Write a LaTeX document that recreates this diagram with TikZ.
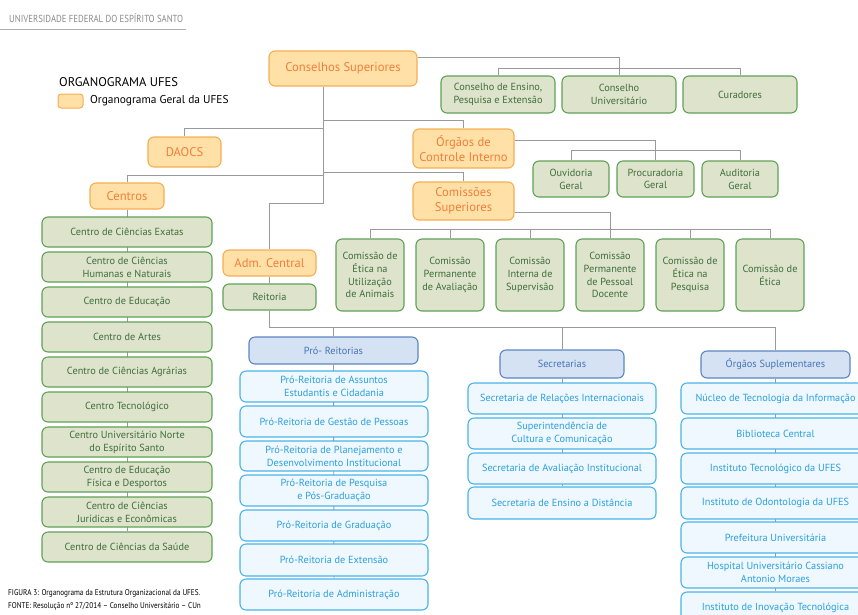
\documentclass[tikz,border=0pt]{standalone}
\usepackage{fontspec}
\setmainfont{PT Sans}
\usetikzlibrary{backgrounds}
\definecolor{oF}{HTML}{FFE1A8}
\definecolor{oB}{HTML}{F7AD52}
\definecolor{oT}{HTML}{F27E3A}
\definecolor{gF}{HTML}{DEE3CC}
\definecolor{gB}{HTML}{5FA255}
\definecolor{gT}{HTML}{3E6E3A}
\definecolor{hF}{HTML}{D4E2F4}
\definecolor{hB}{HTML}{5B86C1}
\definecolor{hT}{HTML}{4673B5}
\definecolor{lF}{HTML}{EEF8FE}
\definecolor{lB}{HTML}{48B3EA}
\definecolor{lT}{HTML}{2C9FDF}
\definecolor{lineC}{HTML}{9A9A9A}
\definecolor{hdr}{HTML}{8A8A8A}
\tikzset{
  base/.style={rounded corners=6pt, line width=1.1pt, inner sep=0pt, align=center,
    font=\fontsize{10.3}{12.8}\selectfont},
  obox/.style={base, draw=oB, fill=oF, text=oT, font=\fontsize{12.6}{15.5}\selectfont},
  gbox/.style={base, draw=gB, fill=gF, text=gT},
  hbox/.style={base, draw=hB, fill=hF, text=hT},
  lbox/.style={base, draw=lB, fill=lF, text=lT},
  conn/.style={draw=lineC, line width=0.9pt},
}
\newcommand{\bx}[7]{\node[#1, minimum width={(#5-#3)*1pt}, minimum height={(#6-#4)*1pt}] (#2) at ({(#3+#5)/2},{(#4+#6)/2}) {#7};}
\begin{document}
\begin{tikzpicture}[x=1pt,y=-1pt]
\useasboundingbox (0,0) rectangle (858,614);
% header
\node[anchor=west, inner sep=0, text=hdr, font=\fontsize{10.2}{11}\selectfont] (hdrtxt) at (9,18) {\scalebox{0.86}[1]{UNIVERSIDADE FEDERAL DO ESPÍRITO SANTO}};
\draw[draw=lineC!80, line width=1pt] (0,29) -- (186,29);
% legend
\node[anchor=west, inner sep=0, font=\fontsize{12.6}{14}\selectfont] (legt) at (59,82) {ORGANOGRAMA UFES};
\node[rounded corners=3pt, draw=oB, fill=oF, line width=1pt, minimum width=25pt, minimum height=14pt, inner sep=0] (sw) at (70.5,101) {};
\node[anchor=west, inner sep=0, font=\fontsize{11.4}{13}\selectfont] (legs) at (90,101) {Organograma Geral da UFES};
% top
\bx{obox}{cs}{269}{51}{417}{86}{Conselhos Superiores}
\bx{gbox}{cee}{441}{76}{555}{113}{Conselho de Ensino,\\Pesquisa e Extensão}
\bx{gbox}{cu}{562}{76}{676}{113}{Conselho\\Universitário}
\bx{gbox}{cur}{683}{76}{797}{113}{Curadores}
\bx{obox}{daocs}{148}{137}{221}{167}{DAOCS}
\bx{obox}{oci}{413}{129}{514}{168}{Órgãos de\\Controle Interno}
\bx{gbox}{ouv}{533}{161}{609}{197}{Ouvidoria\\Geral}
\bx{gbox}{pg}{617}{161}{694}{197}{Procuradoria\\Geral}
\bx{gbox}{aud}{702}{161}{778}{197}{Auditoria\\Geral}
\bx{obox}{centros}{90}{183}{164}{209}{Centros}
\bx{obox}{coms}{413}{182}{514}{220}{Comissões\\Superiores}
\bx{gbox}{c1}{336}{239}{404}{311}{Comissão de\\Ética na\\Utilização\\de Animais}
\bx{gbox}{c2}{416}{239}{484}{311}{Comissão\\Permanente\\de Avaliação}
\bx{gbox}{c3}{496}{239}{564}{311}{Comissão\\Interna de\\Supervisão}
\bx{gbox}{c4}{576}{239}{644}{311}{Comissão\\Permanente\\de Pessoal\\Docente}
\bx{gbox}{c5}{656}{239}{724}{311}{Comissão de\\Ética na\\Pesquisa}
\bx{gbox}{c6}{736}{239}{804}{311}{Comissão de\\Ética}
\bx{obox}{adm}{223}{250}{316}{276}{Adm. Central}
\bx{gbox}{reit}{223}{284}{316}{310}{Reitoria}
% centros list
\bx{gbox}{e1}{42}{217}{212}{247}{Centro de Ciências Exatas}
\bx{gbox}{e2}{42}{252}{212}{282}{Centro de Ciências\\Humanas e Naturais}
\bx{gbox}{e3}{42}{287}{212}{317}{Centro de Educação}
\bx{gbox}{e4}{42}{322}{212}{352}{Centro de Artes}
\bx{gbox}{e5}{42}{357}{212}{387}{Centro de Ciências Agrárias}
\bx{gbox}{e6}{42}{392}{212}{422}{Centro Tecnológico}
\bx{gbox}{e7}{42}{427}{212}{457}{Centro Universitário Norte\\do Espírito Santo}
\bx{gbox}{e8}{42}{462}{212}{492}{Centro de Educação\\Física e Desportos}
\bx{gbox}{e9}{42}{497}{212}{527}{Centro de Ciências\\Jurídicas e Econômicas}
\bx{gbox}{e10}{42}{532}{212}{562}{Centro de Ciências da Saúde}
% pro-reitorias
\bx{hbox}{pr}{249}{337}{418}{364}{Pró- Reitorias}
\bx{lbox}{p1}{240}{371}{428}{402}{Pró-Reitoria de Assuntos\\Estudantis e Cidadania}
\bx{lbox}{p2}{240}{406}{428}{437}{Pró-Reitoria de Gestão de Pessoas}
\bx{lbox}{p3}{240}{441}{428}{471}{Pró-Reitoria de Planejamento e\\Desenvolvimento Institucional}
\bx{lbox}{p4}{240}{475}{428}{506}{Pró-Reitoria de Pesquisa\\e Pós-Graduação}
\bx{lbox}{p5}{240}{510}{428}{541}{Pró-Reitoria de Graduação}
\bx{lbox}{p6}{240}{544}{428}{576}{Pró-Reitoria de Extensão}
\bx{lbox}{p7}{240}{579}{428}{610}{Pró-Reitoria de Administração}
% secretarias
\bx{hbox}{sec}{500}{350}{624}{378}{Secretarias}
\bx{lbox}{s1}{468}{383}{656}{414}{Secretaria de Relações Internacionais}
\bx{lbox}{s2}{468}{418}{656}{449}{Superintendência de\\Cultura e Comunicação}
\bx{lbox}{s3}{468}{453}{656}{484}{Secretaria de Avaliação Institucional}
\bx{lbox}{s4}{468}{487}{656}{519}{Secretaria de Ensino a Distância}
% orgaos suplementares
\bx{hbox}{orgs}{701}{351}{850}{378}{Órgãos Suplementares}
\bx{lbox}{o1}{681}{383}{870}{414}{Núcleo de Tecnologia da Informação}
\bx{lbox}{o2}{681}{418}{870}{449}{Biblioteca Central}
\bx{lbox}{o3}{681}{453}{870}{484}{Instituto Tecnológico da UFES}
\bx{lbox}{o4}{681}{487}{870}{519}{Instituto de Odontologia da UFES}
\bx{lbox}{o5}{681}{522}{870}{553}{Prefeitura Universitária}
\bx{lbox}{o6}{681}{557}{870}{588}{Hospital Universitário Cassiano\\Antonio Moraes}
\bx{lbox}{o7}{681}{592}{870}{623}{Instituto de Inovação Tecnológica}
% footer
\node[anchor=west, inner sep=0, font=\fontsize{8.4}{9}\selectfont] (fig) at (8,593) {\scalebox{0.86}[1]{FIGURA 3: Organograma da Estrutura Organizacional da UFES.}};
\node[anchor=west, inner sep=0, font=\fontsize{8.4}{9}\selectfont] (fon) at (8,606) {\scalebox{0.86}[1]{FONTE: Resolução nº 27/2014 -- Conselho Universitário -- CUn}};
% connectors
\begin{pgfonlayer}{background}
\draw[conn] (cs.east |- 0,57) -| (cu.north);
\draw[conn] (cee.north) -- ++(0,-7) -| (cur.north);
\draw[conn] (cs.south -| 323,0) -- (323,203) -| (adm.north);
\draw[conn] (323,120) -| (oci.north);
\draw[conn] (323,128) -| (daocs.north);
\draw[conn] (323,172) -| (coms.north);
\draw[conn] (323,175) -| (centros.north);
\draw[conn] (oci.east |- 0,140) -| (pg.north);
\draw[conn] (ouv.north) -- ++(0,-10) -| (aud.north);
\draw[conn] (coms.east |- 0,212) -| (c4.north);
\draw[conn] (c1.north) -- ++(0,-9) -| (c6.north);
\draw[conn] (c2.north) -- ++(0,-9);
\draw[conn] (c3.north) -- ++(0,-9);
\draw[conn] (c5.north) -- ++(0,-9);
\draw[conn] (adm.south) -- (reit.north);
\draw[conn] (reit.south) |- (orgs.north |- 0,327) -- (orgs.north);
\draw[conn] (pr.north) -- (pr.north |- 0,327);
\draw[conn] (sec.north) -- (sec.north |- 0,327);
\draw[conn] (centros.south) -- (e10.north);
\draw[conn] (pr.south) -- (p7.north);
\draw[conn] (sec.south) -- (s4.north);
\draw[conn] (orgs.south) -- (o7.north);
\end{pgfonlayer}
\end{tikzpicture}
\end{document}
